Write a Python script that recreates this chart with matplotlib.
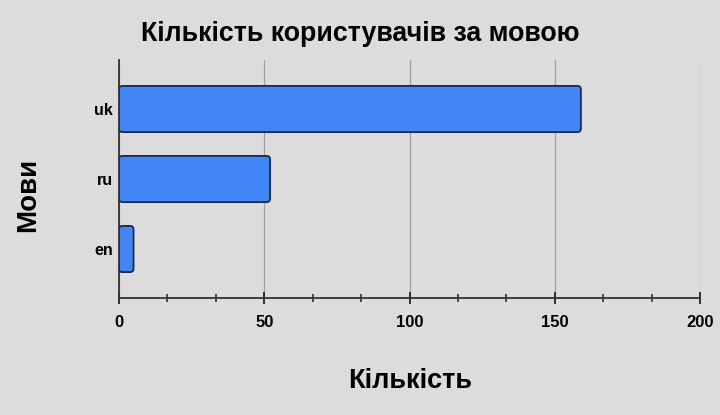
import matplotlib
matplotlib.use("Agg")
import matplotlib.pyplot as plt
from matplotlib.patches import FancyBboxPatch
from matplotlib.ticker import MultipleLocator

languages = ["en", "ru", "uk"]
counts = [5, 52, 159]
title = "Кількість користувачів за мовою"
xlabel = "Кількість"
ylabel = "Мови"

plt.rcParams['font.family'] = ['Liberation Sans', 'DejaVu Sans']
bg = "#dcdcdc"
fig = plt.figure(figsize=(7.2, 4.15), dpi=100, facecolor=bg)
ax = fig.add_axes([0.1653, 0.2819, 0.8069, 0.5735])
ax.set_facecolor(bg)

bars = ax.barh(languages, counts, height=0.66, color="#4285f4")
ax.set_xlim(0, 200)
ax.set_ylim(-0.7, 2.7)
fig.canvas.draw()
aspect = (ax.transData.transform((0, 1))[1] - ax.transData.transform((0, 0))[1]) / \
         (ax.transData.transform((1, 0))[0] - ax.transData.transform((0, 0))[0])
for b in bars:
    x, y, w, h = b.get_x(), b.get_y(), b.get_width(), b.get_height()
    b.set_visible(False)
    p = FancyBboxPatch((x, y), w, h, boxstyle="round,pad=0,rounding_size=1.2",
                       mutation_aspect=1 / aspect, facecolor="#4285f4",
                       edgecolor="#1a2a4a", linewidth=1.3, zorder=3)
    ax.add_patch(p)

ax.xaxis.set_major_locator(MultipleLocator(50))
ax.xaxis.set_minor_locator(MultipleLocator(50 / 3))
ax.grid(axis="x", which="major", color="#a0a0a0", linewidth=0.9, zorder=0)
ax.set_axisbelow(True)
for s in ["top", "right"]:
    ax.spines[s].set_visible(False)
for s in ["left", "bottom"]:
    ax.spines[s].set_color("#333333")
    ax.spines[s].set_linewidth(1.3)
ax.tick_params(axis="x", which="major", direction="inout", length=9, width=1.3,
               color="#222222", labelsize=12, pad=8)
ax.tick_params(axis="x", which="minor", direction="inout", length=6, width=1.1,
               color="#222222")
ax.tick_params(axis="y", length=0, labelsize=11.5, pad=4.5)
for lab in ax.get_xticklabels() + ax.get_yticklabels():
    lab.set_fontweight("bold")

fig.text(0.5, 0.918, title, ha="center", va="center", fontsize=19.3, fontweight="bold")
fig.text(0.569, 0.082, xlabel, ha="center", va="center", fontsize=19.5, fontweight="bold")
fig.text(0.039, 0.53, ylabel, rotation=90, ha="center", va="center", fontsize=20,
         fontweight="bold")

fig.savefig("out.png", dpi=100, facecolor=bg)
